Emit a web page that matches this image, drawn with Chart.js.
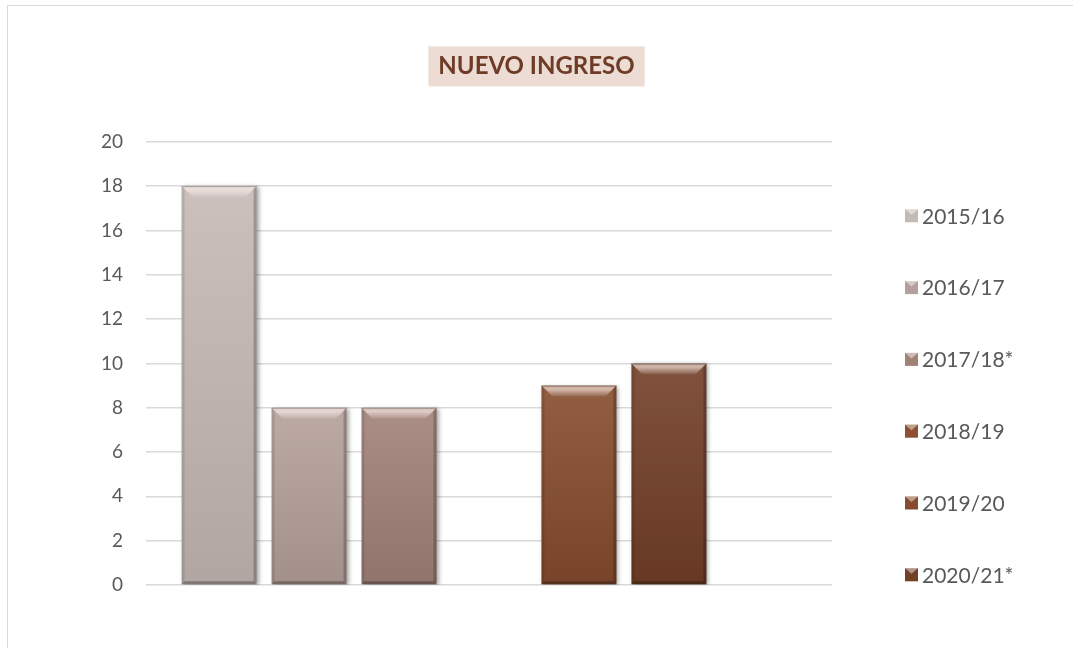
<!DOCTYPE html>
<html>
<head>
<meta charset="utf-8">
<script src="https://cdn.jsdelivr.net/npm/chart.js@4/dist/chart.umd.min.js"></script>
<style>
    body { margin: 0; background: #fff; }
    #wrap { position: relative; width: 1073px; height: 648px; }
    #frame { position: absolute; left: 7px; top: 5px; right: 0; bottom: 0;
             border-top: 1px solid #d9d9d9; border-left: 1px solid #d9d9d9; pointer-events: none; }
</style>
</head>
<body>
<div id="wrap">
    <canvas id="barChart" width="1073" height="648"></canvas>
    <div id="frame"></div>
</div>
<script>
const categories = ["Nuevo ingreso"];
// last slot is the empty series Excel keeps at the end of the group
const seriesLabels = ["2015/16", "2016/17", "2017/18*", "2018/19", "2019/20", "2020/21*", ""];
const seriesValues = [18, 8, 8, null, 9, 10, null];
const barColors = ["#c6b9b5", "#b5a09a", "#a18278", "#8e5033", "#854c2e", "#723f27", "rgba(0,0,0,0)"];
const yMin = 0, yMax = 20, yStep = 2;
const titleText = "NUEVO INGRESO";

const TITLE_FONT = { family: "Lato", size: 24, weight: "bold", lineHeight: 1.2 };
const TITLE_PAD = { top: 52, bottom: 61 };

function poly(ctx, pts, fill) {
    ctx.beginPath();
    ctx.moveTo(pts[0][0], pts[0][1]);
    for (let i = 1; i < pts.length; i++) ctx.lineTo(pts[i][0], pts[i][1]);
    ctx.closePath();
    ctx.fillStyle = fill;
    ctx.fill();
}

// pink box behind the title
const titleBox = {
    id: "titleBox",
    beforeDraw(chart) {
        const t = chart.titleBlock;
        if (!t) return;
        const ctx = chart.ctx;
        ctx.save();
        ctx.font = "bold 24px Lato";
        const w = ctx.measureText(titleText).width;
        const cx = (t.left + t.right) / 2;
        const cy = t.top + TITLE_PAD.top + TITLE_FONT.size * TITLE_FONT.lineHeight / 2;
        ctx.fillStyle = "#ecdcd4";
        ctx.fillRect(cx - w / 2 - 10, cy - 20, w + 20, 40);
        ctx.restore();
    }
};

// bevel look of the Excel bars
const bevel = {
    id: "bevel",
    beforeDatasetsDraw(chart) {
        const ctx = chart.ctx;
        ctx.save();
        ctx.shadowColor = "rgba(0,0,0,0.35)";
        ctx.shadowBlur = 4;
        ctx.shadowOffsetX = 2;
        ctx.shadowOffsetY = 1;
    },
    afterDatasetsDraw(chart) {
        const ctx = chart.ctx;
        ctx.restore();
        chart.data.datasets.forEach((ds, i) => {
            const meta = chart.getDatasetMeta(i);
            meta.data.forEach((bar, j) => {
                if (ds.data[j] == null) return;
                const { x, y, base, width } = bar.getProps(["x", "y", "base", "width"], true);
                const l = x - width / 2, r = x + width / 2, t = y, b = base;
                let g = ctx.createLinearGradient(0, t, 0, b);
                g.addColorStop(0, "rgba(255,255,255,0.10)");
                g.addColorStop(1, "rgba(0,0,0,0.10)");
                ctx.fillStyle = g;
                ctx.fillRect(l, t, width, b - t);
                const s = 3, k = 11;
                poly(ctx, [[l, t], [l + s, t + s], [l + s, b - s], [l, b]], "rgba(0,0,0,0.10)");
                poly(ctx, [[r, t], [r - s, t + s], [r - s, b - s], [r, b]], "rgba(0,0,0,0.22)");
                poly(ctx, [[l, b], [l + s, b - s], [r - s, b - s], [r, b]], "rgba(0,0,0,0.28)");
                g = ctx.createLinearGradient(0, t, 0, t + k);
                g.addColorStop(0, "rgba(255,255,255,0.35)");
                g.addColorStop(0.3, "rgba(255,240,235,0.65)");
                g.addColorStop(1, "rgba(255,255,255,0.05)");
                poly(ctx, [[l, t], [r, t], [r - k, t + k], [l + k, t + k]], g);
                ctx.fillStyle = "rgba(0,0,0,0.25)";
                ctx.fillRect(l, t, width, 1);
            });
        });
    }
};

// legend spread down the right side like in Excel
const sideLegend = {
    id: "sideLegend",
    afterDraw(chart) {
        const ctx = chart.ctx;
        const area = chart.chartArea;
        const step = 71.8;
        ctx.save();
        ctx.font = "21px Lato";
        ctx.textBaseline = "middle";
        ctx.textAlign = "left";
        seriesLabels.forEach((lab, i) => {
            if (!lab) return;
            const cy = area.top + 74 + i * step;
            const bx = area.right + 73;
            ctx.fillStyle = barColors[i];
            ctx.fillRect(bx, cy - 6.5, 13, 13);
            poly(ctx, [[bx, cy - 6.5], [bx + 13, cy - 6.5], [bx + 6.5, cy - 1]], "rgba(255,255,255,0.45)");
            ctx.fillStyle = "#595959";
            ctx.fillText(lab, area.right + 90, cy + 1);
        });
        ctx.restore();
    }
};

document.addEventListener("DOMContentLoaded", function () {
    Chart.defaults.font.family = "Lato";
    Chart.defaults.color = "#595959";

    const ctxBar = document.getElementById("barChart").getContext("2d");
    new Chart(ctxBar, {
        type: "bar",
        data: {
            labels: categories,
            datasets: seriesLabels.map((lab, i) => ({
                label: lab,
                data: [seriesValues[i]],
                backgroundColor: barColors[i],
                borderWidth: 0,
                barPercentage: 0.833,
                categoryPercentage: 0.918
            }))
        },
        options: {
            responsive: false,
            animation: false,
            layout: { padding: { left: 0, right: 0, top: 0, bottom: 63 } },
            plugins: {
                legend: { display: false },
                tooltip: { enabled: false },
                title: {
                    display: true,
                    text: titleText,
                    color: "#6e3b26",
                    font: TITLE_FONT,
                    padding: TITLE_PAD
                }
            },
            scales: {
                x: { display: false },
                y: {
                    min: yMin,
                    max: yMax,
                    ticks: { stepSize: yStep, padding: 23, font: { size: 19 }, color: "#595959" },
                    grid: { color: "#d9d9d9", lineWidth: 1.5, drawTicks: false },
                    border: { display: false },
                    afterFit(s) { s.width = 146; }
                },
                yR: {
                    position: "right",
                    display: true,
                    ticks: { display: false },
                    grid: { display: false },
                    border: { display: false },
                    afterFit(s) { s.width = 241; }
                }
            }
        },
        plugins: [titleBox, bevel, sideLegend]
    });
});
</script>
</body>
</html>
